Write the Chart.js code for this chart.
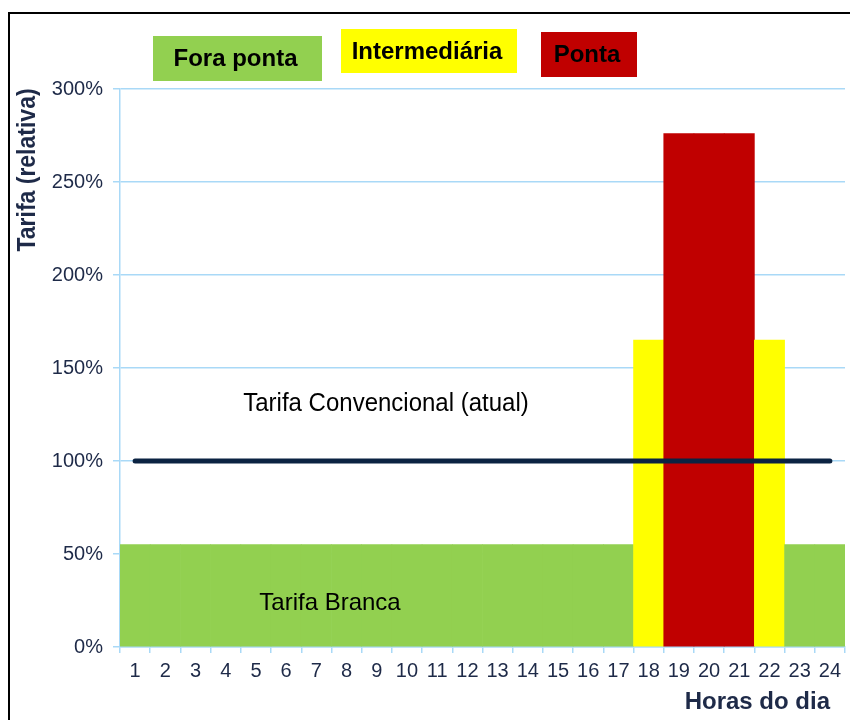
<!DOCTYPE html>
<html>
<head>
<meta charset="utf-8">
<script src="https://cdn.jsdelivr.net/npm/chart.js@4/dist/chart.umd.min.js"></script>
<style>
  html, body { margin: 0; padding: 0; background: #fff; }
  canvas { display: block; }
</style>
</head>
<body>
<canvas id="chart" width="850" height="720"></canvas>
<script>

// --- data ---
var horas = [ '1', '2', '3', '4', '5', '6', '7', '8', '9', '10', '11', '12',
              '13', '14', '15', '16', '17', '18', '19', '20', '21', '22', '23', '24' ];

// posto tarifário de cada hora
var postos = [ 'Fora ponta', 'Fora ponta', 'Fora ponta', 'Fora ponta', 'Fora ponta', 'Fora ponta',
               'Fora ponta', 'Fora ponta', 'Fora ponta', 'Fora ponta', 'Fora ponta', 'Fora ponta',
               'Fora ponta', 'Fora ponta', 'Fora ponta', 'Fora ponta', 'Fora ponta', 'Intermediária',
               'Ponta', 'Ponta', 'Ponta', 'Intermediária', 'Fora ponta', 'Fora ponta' ];

var tarifaBranca = [ 55, 55, 55, 55, 55, 55, 55, 55, 55, 55, 55, 55,
                     55, 55, 55, 55, 55, 165, 276, 276, 276, 165, 55, 55 ];

var tarifaConvencional = [ 100, 100, 100, 100, 100, 100, 100, 100, 100, 100, 100, 100,
                           100, 100, 100, 100, 100, 100, 100, 100, 100, 100, 100, 100 ];

var yTicks = [ 0, 50, 100, 150, 200, 250, 300 ];

var nomesPostos = [ 'Fora ponta', 'Intermediária', 'Ponta' ];

// --- styles ---
var cores = {
  'Fora ponta': '#92d050',
  'Intermediária': '#ffff00',
  'Ponta': '#c00000'
};
var azulGrade = '#a9d9f7';
var corTexto = '#1e2a48';
var fonte = '"Liberation Sans", Arial, sans-serif';

// legend boxes at the top (x, y, w, h)
var caixas = {
  'Fora ponta': [ 153, 36, 169, 45 ],
  'Intermediária': [ 341, 29, 176, 44 ],
  'Ponta': [ 541, 32, 96, 45 ]
};

// text with a little stretch, the source picture is a bit distorted
var texto = function( ctx, str, x, y, font, align, sx, sy, rot ) {
  ctx.save();
  ctx.translate( x, y );
  if ( rot ) ctx.rotate( rot );
  ctx.scale( sx, sy );
  ctx.font = font;
  ctx.textAlign = align;
  ctx.textBaseline = 'middle';
  ctx.fillText( str, 0, 0 );
  ctx.restore();
};

var decoracao = {
  id: 'decoracao',
  beforeDraw: function( chart ) {
    var ctx = chart.ctx;
    ctx.save();
    ctx.fillStyle = '#fff';
    ctx.fillRect( 0, 0, chart.width, chart.height );
    ctx.restore();
  },
  afterDraw: function( chart ) {
    var ctx = chart.ctx;
    ctx.save();

    // frame
    ctx.strokeStyle = '#000';
    ctx.lineWidth = 2;
    ctx.strokeRect( 9, 13, 900, 800 );

    // legend boxes
    nomesPostos.forEach( function( nome ) {
      var b = caixas[ nome ];
      ctx.fillStyle = cores[ nome ];
      ctx.fillRect( b[ 0 ], b[ 1 ], b[ 2 ], b[ 3 ] );
      ctx.fillStyle = '#000';
      texto( ctx, nome, b[ 0 ] + b[ 2 ] / 2 - 2, b[ 1 ] + b[ 3 ] / 2 + 1,
             'bold 24px ' + fonte, 'center', 1, 1.03 );
    } );

    // axis titles
    ctx.fillStyle = corTexto;
    texto( ctx, 'Tarifa (relativa)', 28, 170, 'bold 23px ' + fonte, 'center', 1, 1.15, -Math.PI / 2 );
    texto( ctx, 'Horas do dia', 830, 702, 'bold 24px ' + fonte, 'right', 1, 1 );

    // annotations
    ctx.fillStyle = '#000';
    texto( ctx, 'Tarifa Convencional (atual)', 386, 404, '24px ' + fonte, 'center', 1, 1.05 );
    texto( ctx, 'Tarifa Branca', 330, 603, '24px ' + fonte, 'center', 1, 1 );

    ctx.restore();
  }
};

new Chart( document.getElementById( 'chart' ), {
  type: 'bar',
  data: {
    labels: horas,
    datasets: [
      {
        type: 'line',
        label: 'Tarifa Convencional (atual)',
        data: tarifaConvencional,
        borderColor: '#0b2342',
        borderWidth: 5,
        borderCapStyle: 'round',
        pointRadius: 0,
        fill: false,
        order: 0
      },
      {
        label: 'Tarifa Branca',
        data: tarifaBranca,
        backgroundColor: postos.map( function( p ) { return cores[ p ]; } ),
        borderWidth: 0,
        barPercentage: 1,
        categoryPercentage: 1,
        order: 1
      }
    ]
  },
  options: {
    responsive: false,
    animation: false,
    devicePixelRatio: 1,
    layout: {
      padding: { top: 89, right: 5, bottom: 0, left: 0 }
    },
    plugins: {
      legend: { display: false },
      tooltip: { enabled: false }
    },
    scales: {
      x: {
        grid: {
          offset: true,
          drawOnChartArea: false,
          color: azulGrade,
          tickLength: 6,
          lineWidth: 1.5
        },
        border: { color: azulGrade, width: 1.5 },
        ticks: {
          color: corTexto,
          font: { family: fonte, size: 20 },
          padding: 6,
          maxRotation: 0,
          autoSkip: false
        },
        afterFit: function( s ) { s.height = 73; }
      },
      y: {
        min: 0,
        max: 300,
        afterBuildTicks: function( s ) {
          s.ticks = yTicks.map( function( v ) { return { value: v }; } );
        },
        grid: {
          color: azulGrade,
          tickLength: 7,
          lineWidth: 1.5
        },
        border: { color: azulGrade, width: 1.5 },
        ticks: {
          color: corTexto,
          font: { family: fonte, size: 20 },
          padding: 10,
          callback: function( v ) { return v + '%'; }
        },
        afterFit: function( s ) { s.width = 120; }
      }
    }
  },
  plugins: [ decoracao ]
} );

</script>
</body>
</html>
